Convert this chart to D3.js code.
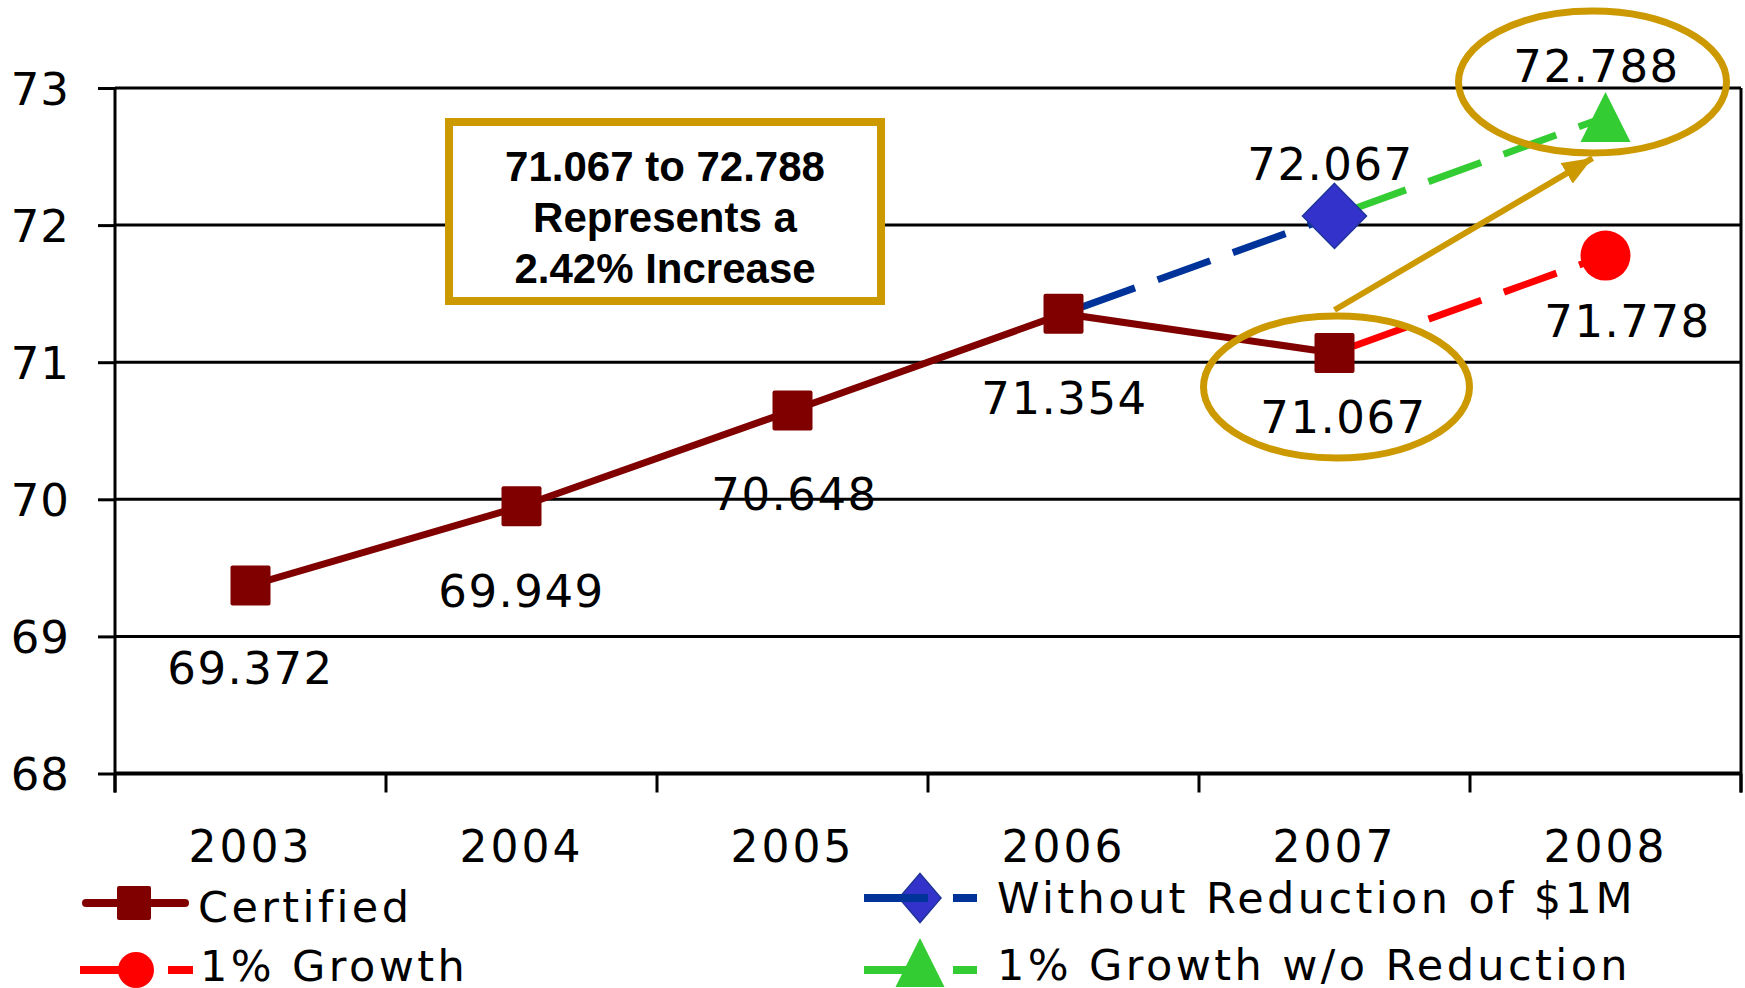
<!DOCTYPE html>
<html>
<head>
<meta charset="utf-8">
<script src="https://cdn.jsdelivr.net/npm/d3@7"></script>
<style>
    html, body { margin: 0; padding: 0; background: #fff; }
    svg { display: block; }
    .num { font-family: "DejaVu Sans", Verdana, sans-serif; fill: #000; }
    .callout { font-family: "Liberation Sans", Arial, sans-serif; font-weight: bold; fill: #000; }
</style>
</head>
<body>
<svg id="chart" width="1745" height="988"></svg>
<script>
// data
const years = ["2003", "2004", "2005", "2006", "2007", "2008"];
const certified = [69.372, 69.949, 70.648, 71.354, 71.067, null];
const withoutReduction = [null, null, null, 71.354, 72.067, null];
const growth = [null, null, null, null, 71.067, 71.778];
const growthNoReduction = [null, null, null, null, 72.067, 72.788];
const yTicks = [68, 69, 70, 71, 72, 73];
const calloutLines = ["71.067 to 72.788", "Represents a", "2.42% Increase"];

const W = 1745, H = 988;
const margin = { top: 88, right: 4, bottom: 214.5, left: 115 };
const gold = "#CC9900";

const series = [
    { key: "certified", name: "Certified", values: certified, color: "#800000", dash: null, marker: "square" },
    { key: "withoutReduction", name: "Without Reduction of $1M", values: withoutReduction, color: "#003399", dash: "56,24", marker: "diamond" },
    { key: "growth", name: "1% Growth", values: growth, color: "#FF0000", dash: "56,24", marker: "circle" },
    { key: "growthNoReduction", name: "1% Growth w/o Reduction", values: growthNoReduction, color: "#33CC33", dash: "56,24", marker: "triangle" }
];

// where each value label sits relative to its point [series, year, dx, dy]
const labelPlacement = [
    ["certified", "2003", 0, 99],
    ["certified", "2004", 0, 101],
    ["certified", "2005", 2, 100],
    ["certified", "2006", 1, 100],
    ["certified", "2007", 9, 80],
    ["withoutReduction", "2007", -4, -36],
    ["growth", "2008", 22, 81],
    ["growthNoReduction", "2008", -9, -35]
];

const svg = d3.select("#chart");

const x = d3.scaleBand().domain(years).range([margin.left, W - margin.right]);
const y = d3.scaleLinear().domain([68, 73]).range([H - margin.bottom, margin.top]);
const cx = d => x(d) + x.bandwidth() / 2;
const x0 = margin.left, x1 = W - margin.right, yBottom = y(68);

// gridlines
svg.append("g")
    .selectAll("line")
    .data(yTicks)
    .join("line")
    .attr("x1", x0).attr("x2", x1)
    .attr("y1", d => y(d)).attr("y2", d => y(d))
    .attr("stroke", "#000")
    .attr("stroke-width", d => d === 68 ? 4 : 3);

// right frame line (runs down into last tick)
svg.append("line")
    .attr("x1", x1).attr("x2", x1)
    .attr("y1", y(73)).attr("y2", yBottom + 19)
    .attr("stroke", "#000").attr("stroke-width", 3);

// y axis
const yAxis = svg.append("g")
    .attr("transform", `translate(${x0},0)`)
    .call(d3.axisLeft(y).tickValues(yTicks).tickFormat(d3.format("d"))
        .tickSize(17).tickSizeOuter(0).tickPadding(28));
yAxis.select(".domain").attr("stroke", "#000").attr("stroke-width", 3)
    .attr("d", `M0,${y(73)}V${yBottom + 19}`);
yAxis.selectAll(".tick line").attr("stroke-width", 3);
yAxis.selectAll("text")
    .attr("class", "num")
    .style("font-size", "45px")
    .style("letter-spacing", "1px")
    .attr("dy", "0.36em");

// x tick marks at category boundaries
const bounds = years.map(d => x(d)).concat([x1]);
svg.append("g")
    .selectAll("line")
    .data(bounds)
    .join("line")
    .attr("x1", d => d).attr("x2", d => d)
    .attr("y1", yBottom).attr("y2", yBottom + 19)
    .attr("stroke", "#000").attr("stroke-width", 3);

// year labels
const xAxis = svg.append("g")
    .attr("transform", `translate(0,${yBottom})`)
    .call(d3.axisBottom(x).tickSize(0).tickPadding(57));
xAxis.select(".domain").remove();
xAxis.selectAll("text")
    .attr("class", "num")
    .style("font-size", "44px")
    .style("letter-spacing", "3px");

// lines
const line = d3.line()
    .defined(d => d.v != null)
    .x(d => cx(d.year))
    .y(d => y(d.v));

const toPoints = s => s.values.map((v, i) => ({ year: years[i], v: v }));

svg.append("g")
    .selectAll("path")
    .data(series)
    .join("path")
    .attr("d", s => line(toPoints(s)))
    .attr("fill", "none")
    .attr("stroke", s => s.color)
    .attr("stroke-width", 7)
    .attr("stroke-dasharray", s => s.dash)
    .attr("stroke-dashoffset", s => s.dash ? -20 : null);

// markers
function markerPath(type, w, h) {
    if (type === "diamond") return `M0,${-h / 2}L${w / 2},0L0,${h / 2}L${-w / 2},0Z`;
    if (type === "triangle") return `M0,${-h / 2}L${w / 2},${h / 2}L${-w / 2},${h / 2}Z`;
    return null;
}

function drawMarker(g, s, size) {
    if (s.marker === "square") {
        g.append("rect")
            .attr("x", -size / 2).attr("y", -size / 2)
            .attr("width", size).attr("height", size)
            .attr("rx", 2)
            .attr("fill", s.color);
    } else if (s.marker === "circle") {
        g.append("circle").attr("r", size / 2).attr("fill", s.color);
    } else if (s.marker === "diamond") {
        g.append("path")
            .attr("d", markerPath("diamond", size * 1.28, size * 1.3))
            .attr("fill", "#3333CC")
            .attr("stroke", "#1F3399")
            .attr("stroke-width", 1.5);
    } else {
        g.append("path")
            .attr("d", markerPath("triangle", size, size))
            .attr("fill", s.color);
    }
}

const markerSize = { square: 40, circle: 50, diamond: 50, triangle: 50 };

series.forEach(s => {
    const pts = toPoints(s).filter(d => d.v != null);
    // projected series start on an existing point, so skip their first marker
    const shown = s.dash ? pts.slice(1) : pts;
    shown.forEach(d => {
        const g = svg.append("g").attr("transform", `translate(${cx(d.year)},${y(d.v)})`);
        drawMarker(g, s, markerSize[s.marker]);
    });
});

// value labels
const fmt = d3.format(".3f");
svg.append("g")
    .selectAll("text")
    .data(labelPlacement)
    .join("text")
    .attr("class", "num")
    .attr("text-anchor", "middle")
    .style("font-size", "45px")
    .style("letter-spacing", "1.5px")
    .attr("x", d => cx(d[1]) + d[2])
    .attr("y", d => {
        const s = series.find(e => e.key === d[0]);
        return y(s.values[years.indexOf(d[1])]) + d[3];
    })
    .text(d => {
        const s = series.find(e => e.key === d[0]);
        return fmt(s.values[years.indexOf(d[1])]);
    });

// highlight ellipses
const yFrom = y(certified[4]), yTo = y(growthNoReduction[5]);
svg.append("ellipse")
    .attr("cx", cx("2007") + 2).attr("cy", yFrom + 34)
    .attr("rx", 133).attr("ry", 71)
    .attr("fill", "none").attr("stroke", gold).attr("stroke-width", 7);
svg.append("ellipse")
    .attr("cx", cx("2008") - 13).attr("cy", yTo - 35)
    .attr("rx", 134).attr("ry", 71)
    .attr("fill", "none").attr("stroke", gold).attr("stroke-width", 7);

// arrow between ellipses
svg.append("defs").append("marker")
    .attr("id", "arrowHead")
    .attr("markerUnits", "userSpaceOnUse")
    .attr("viewBox", "0 0 30 24")
    .attr("refX", 30).attr("refY", 12)
    .attr("markerWidth", 30).attr("markerHeight", 24)
    .attr("orient", "auto")
    .append("path")
    .attr("d", "M0,0L30,12L0,24Z")
    .attr("fill", gold);

svg.append("line")
    .attr("x1", cx("2007")).attr("y1", yFrom - 43)
    .attr("x2", cx("2008") - 13).attr("y2", yTo + 41)
    .attr("stroke", gold).attr("stroke-width", 6)
    .attr("marker-end", "url(#arrowHead)");

// callout box
svg.append("rect")
    .attr("x", 449).attr("y", 122)
    .attr("width", 432).attr("height", 179)
    .attr("fill", "#fff")
    .attr("stroke", gold).attr("stroke-width", 8);

svg.append("g")
    .selectAll("text")
    .data(calloutLines)
    .join("text")
    .attr("class", "callout")
    .attr("text-anchor", "middle")
    .style("font-size", "42px")
    .attr("x", 665)
    .attr("y", (d, i) => 181 + i * 51)
    .text(d => d);

// legend
const legendLayout = [
    { key: "certified", lx: 86, ly: 903, tx: 198, ty: 922, size: 34, dash: null, cap: "round", len: 99 },
    { key: "growth", lx: 80, ly: 970, tx: 200, ty: 981, size: 36, dash: "60,28", cap: "butt", len: 113 },
    { key: "withoutReduction", lx: 864, ly: 898, tx: 997, ty: 913, size: 38, dash: "64,25", cap: "butt", len: 113 },
    { key: "growthNoReduction", lx: 864, ly: 970, tx: 997, ty: 980, size: 49, dash: "64,25", cap: "butt", len: 113 }
];

const legend = svg.append("g");
legendLayout.forEach(item => {
    const s = series.find(e => e.key === item.key);
    const g = legend.append("g");
    const mx = item.key === "certified" ? item.lx + 48 : item.lx + 56;
    const drawLine = () => g.append("line")
        .attr("x1", item.lx).attr("x2", item.lx + item.len)
        .attr("y1", item.ly).attr("y2", item.ly)
        .attr("stroke", s.color).attr("stroke-width", 8)
        .attr("stroke-linecap", item.cap)
        .attr("stroke-dasharray", item.dash);
    const mg = g.append("g");
    if (s.marker === "diamond") {
        drawLine();
        mg.raise();
        mg.attr("transform", `translate(${mx},${item.ly})`);
        mg.append("path")
            .attr("d", markerPath("diamond", 42, 49))
            .attr("fill", "#3333CC").attr("stroke", "#1F3399").attr("stroke-width", 1.5);
        // the legend line shows through the diamond
        g.append("line")
            .attr("x1", item.lx).attr("x2", mx + 8)
            .attr("y1", item.ly).attr("y2", item.ly)
            .attr("stroke", s.color).attr("stroke-width", 8);
    } else {
        drawLine();
        mg.raise();
        if (s.marker === "triangle") {
            mg.attr("transform", `translate(${mx},${item.ly - 7.5})`);
        } else {
            mg.attr("transform", `translate(${mx},${item.ly})`);
        }
        drawMarker(mg, s, item.size);
    }
    g.append("text")
        .attr("class", "num")
        .style("font-size", "43px")
        .style("letter-spacing", "3.4px")
        .attr("x", item.tx).attr("y", item.ty)
        .text(s.name);
});
</script>
</body>
</html>
